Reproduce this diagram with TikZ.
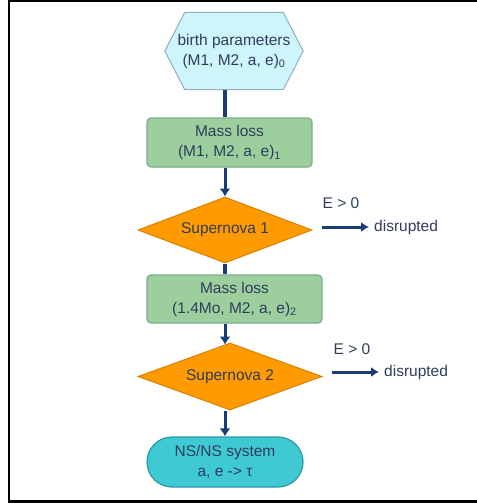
\documentclass[tikz,border=0pt]{standalone}
\usepackage{fontspec}
\setmainfont{Liberation Sans}
\usetikzlibrary{shapes.geometric,arrows.meta,calc}
\definecolor{txt}{HTML}{2E3D5C}
\definecolor{navy}{HTML}{173D72}
\definecolor{hexfill}{HTML}{CDF5FB}
\definecolor{hexdraw}{HTML}{8FB0C0}
\definecolor{grfill}{HTML}{9DCF9E}
\definecolor{grdraw}{HTML}{7BAE8C}
\definecolor{orfill}{HTML}{FF9A00}
\definecolor{ordraw}{HTML}{D88200}
\definecolor{tefill}{HTML}{3FC9D3}
\definecolor{tedraw}{HTML}{2A9AA8}
\tikzset{
  lbl/.style={text=txt,font=\fontsize{15.5}{20}\selectfont,align=center,inner sep=0pt},
  greenbox/.style={lbl,draw=grdraw,fill=grfill,line width=1.2pt,rounded corners=4pt},
  decision/.style={lbl,diamond,aspect=2.7,draw=ordraw,fill=orfill,line width=1pt,inner sep=0pt},
  term/.style={lbl,draw=tedraw,fill=tefill,line width=1.2pt,rounded corners=25pt},
  thickline/.style={navy,line width=4.5pt},
  flowarrow/.style={navy,line width=3pt,-{Latex[length=8pt,width=11pt]}},
  sidearrow/.style={navy,line width=3pt,-{Latex[length=8pt,width=10pt]}}
}
\begin{document}
\begin{tikzpicture}[x=1pt,y=-1pt]
\useasboundingbox (0,0) rectangle (477,504);
\fill[white] (0,0) rectangle (477,504);
% frame
\draw[black,line width=2pt] (9,1) -- (477,1);
\draw[black,line width=2pt] (9,0) -- (9,502);
\draw[black,line width=3pt] (8,501.5) -- (477,501.5);
\coordinate (spine) at (225,0);
% hexagon
\node[lbl,minimum width=138pt,minimum height=77pt] (hex) at (234,51) {};
\draw[draw=hexdraw,fill=hexfill,line width=1pt]
  (hex.west) -- ($(hex.north west)+(20,0)$) -- ($(hex.north east)+(-20,0)$)
  -- (hex.east) -- ($(hex.south east)+(-20,0)$) -- ($(hex.south west)+(20,0)$) -- cycle;
\node[lbl] at (hex.center) {birth parameters\\(M1, M2, a, e)\textsubscript{0}};
% nodes
\node[greenbox,minimum width=165pt,minimum height=49pt] (box1) at (229.5,142.5) {Mass loss\\(M1, M2, a, e)\textsubscript{1}};
\node[decision,minimum width=174pt,minimum height=66pt] (d1) at (225,230) {Supernova 1};
\node[greenbox,minimum width=175pt,minimum height=48pt] (box2) at (234.5,299) {Mass loss\\(1.4Mo, M2, a, e)\textsubscript{2}};
\node[decision,minimum width=184pt,minimum height=67pt] (d2) at (230,376.5) {Supernova 2};
\node[term,minimum width=156pt,minimum height=50pt] (ns) at (225,462) {NS/NS system\\a, e -> τ};
% side labels
\node[lbl] (e1) at (341,203) {E > 0};
\coordinate (s1) at (322,227);
\node[lbl,anchor=west] (dis1) at (374,227) {disrupted};
\node[lbl] (e2) at (352,349) {E > 0};
\coordinate (s2) at (332,372);
\node[lbl,anchor=west] (dis2) at (384,372) {disrupted};
% connectors
\draw[thickline] (spine |- hex.south) -- (spine |- box1.north);
\draw[flowarrow] (spine |- box1.south) -- (d1.north);
\draw[thickline] (d1.south) -- (spine |- box2.north);
\draw[flowarrow] (spine |- box2.south) -- ($(spine |- d2.north)+(0,2)$);
\draw[flowarrow] (spine |- d2.south) -- (ns.north);
\draw[sidearrow] (s1) -- ($(dis1.west)+(-5,0)$);
\draw[sidearrow] (s2) -- ($(dis2.west)+(-5,0)$);
\end{tikzpicture}
\end{document}
